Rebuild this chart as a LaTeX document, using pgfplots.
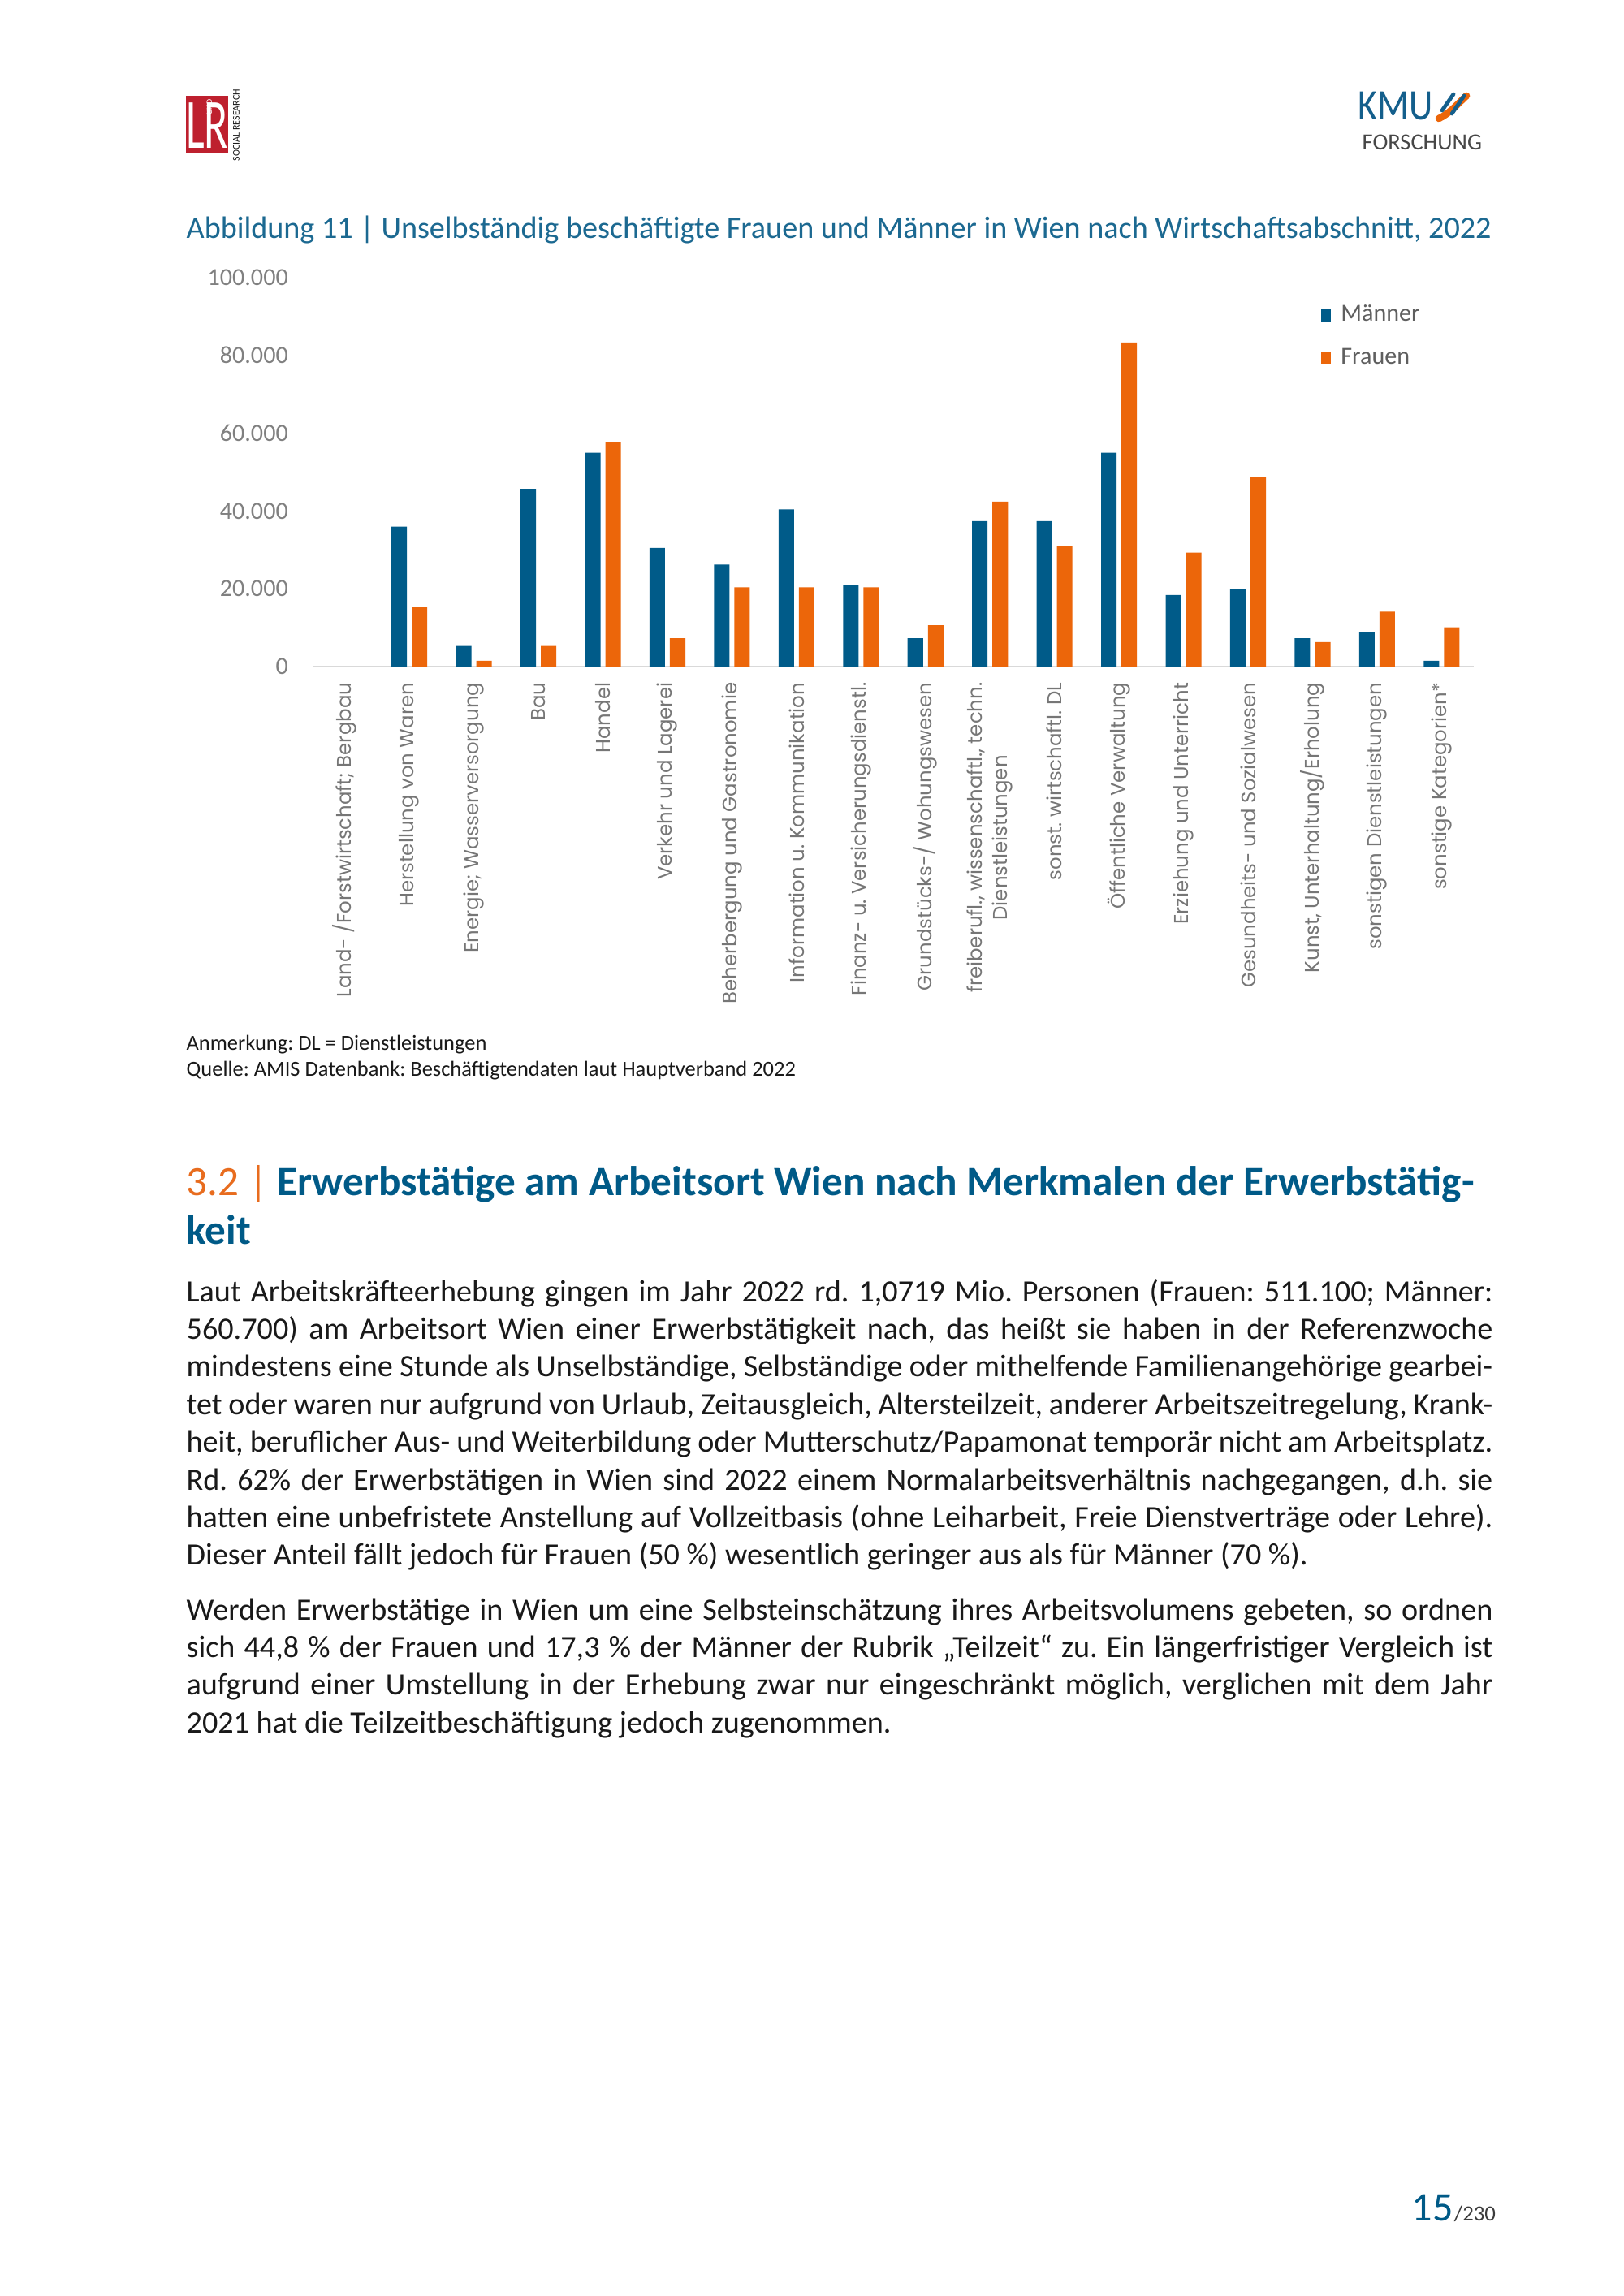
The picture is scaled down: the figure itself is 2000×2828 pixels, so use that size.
\documentclass[border=0pt]{standalone}
\usepackage{fontspec}
\setmainfont{Carlito}
\newfontfamily\labfont{Poppins}
\usepackage{pgfplots}
\pgfplotsset{compat=1.18}
\definecolor{mblue}{RGB}{0,91,137}
\definecolor{forange}{RGB}{236,102,10}
\definecolor{capblue}{RGB}{28,105,145}
\definecolor{headblue}{RGB}{0,90,135}
\definecolor{headorange}{RGB}{232,108,30}
\definecolor{txt}{RGB}{25,25,25}
\definecolor{tickgray}{RGB}{128,128,128}
\definecolor{labgray}{RGB}{118,118,118}
\definecolor{legtext}{RGB}{95,95,95}
\definecolor{axgray}{RGB}{217,217,217}
\definecolor{lrred}{RGB}{190,32,46}
\definecolor{kmublue}{RGB}{20,95,140}
\newcommand\bodyfont{\fontsize{11.4}{13.86}\selectfont}
\newcommand\jl[2]{\node[anchor=base west, inner sep=0pt, font=\bodyfont, text=txt] at (229,#1) {\makebox[168.9mm][s]{#2}};}
\newcommand\lastl[2]{\node[anchor=base west, inner sep=0pt, font=\bodyfont, text=txt] at (229,#1) {#2};}
\frenchspacing
\begin{document}
\frenchspacing
\begin{tikzpicture}[x=0.105mm,y=-0.105mm]
\path[fill=white] (0,0) rectangle (2000,2828);
% ---- logos ----
\fill[lrred] (229,118) rectangle (281,189);
\node[white, inner sep=0pt, anchor=base, xscale=0.62, font=\fontsize{26}{26}\selectfont] at (255,183) {LR};
\node[white, inner sep=0pt, rotate=90, font=\fontsize{3}{3}\selectfont] at (258,132) {UND};
\node[txt, inner sep=0pt, rotate=90, font=\fontsize{3.6}{4}\selectfont] at (291,154) {SOCIAL RESEARCH};
\node[anchor=base west, inner sep=0pt, text=kmublue, xscale=0.85, font=\fontsize{16}{16}\selectfont] at (1672,148) {KMU};
\draw[forange, line width=0.9mm, line cap=round] (1772,146) .. controls (1785,140) and (1795,128) .. (1806,118);
\draw[kmublue, line width=0.5mm, line cap=round] (1776,136) -- (1790,116);
\draw[kmublue, line width=0.5mm, line cap=round] (1788,140) -- (1803,118);
\node[anchor=base west, inner sep=0pt, text=txt!80, font=\fontsize{8.5}{9}\selectfont] at (1677,185) {FORSCHUNG};
% ---- caption ----
\node[anchor=base west, inner sep=0pt, text=capblue, font=\fontsize{11.4}{13}\selectfont] at (229,293) {Abbildung 11 | Unselbständig beschäftigte Frauen und Männer in Wien nach Wirtschaftsabschnitt, 2022};
% ---- chart ----
\coordinate (O) at (385,821);
\begin{axis}[
  at={(O)}, anchor=south west, scale only axis,
  width=150.15mm, height=50.3mm,
  xmin=-0.5, xmax=17.5, ymin=0, ymax=100000,
  ybar=0.63mm, bar width=2.0mm,
  axis x line*=bottom, axis y line*=left,
  x axis line style={draw=axgray, line width=0.3mm},
  y axis line style={draw=none},
  major tick length=0pt,
  xtick={0,...,17},
  xticklabels={{Land- /Forstwirtschaft; Bergbau},{Herstellung von Waren},{Energie; Wasserversorgung},{Bau},{Handel},{Verkehr und Lagerei},{Beherbergung und Gastronomie},{Information u. Kommunikation},{Finanz- u. Versicherungsdienstl.},{Grundstücks-/ Wohungswesen},{freiberufl., wissenschaftl., techn.\\Dienstleistungen},{sonst. wirtschaftl. DL},{Öffentliche Verwaltung},{Erziehung und Unterricht},{Gesundheits- und Sozialwesen},{Kunst, Unterhaltung/Erholung},{sonstigen Dienstleistungen},{sonstige Kategorien*}},
  xticklabel style={rotate=90, anchor=east, align=center, inner sep=0pt, font=\labfont\fontsize{7.3}{9.3}\selectfont, text=labgray},
  xticklabel shift=2mm,
  ytick={0,20000,40000,60000,80000,100000},
  yticklabels={0,20.000,40.000,60.000,80.000,100.000},
  scaled y ticks=false,
  yticklabel style={font=\fontsize{9}{10}\selectfont, text=tickgray, inner sep=0pt},
  yticklabel shift=3.1mm,
  legend cell align=left,
  legend style={at={(0.868,0.945)}, anchor=north west, draw=none, fill=none, inner sep=0pt,
    font=\fontsize{9}{10}\selectfont, text=legtext, row sep=1.55mm, column sep=0.6mm},
  legend image code/.code={\fill[#1] (0mm,-0.79mm) rectangle (1.26mm,0.79mm);},
  clip=false,
]
\addplot[fill=mblue, draw=none] coordinates {
(0,0) (1,36000) (2,5300) (3,45700) (4,55000) (5,30500) (6,26200) (7,40400) (8,20900)
(9,7300) (10,37400) (11,37400) (12,55000) (13,18400) (14,20000) (15,7300) (16,8800) (17,1500)};
\addplot[fill=forange, draw=none] coordinates {
(0,0) (1,15200) (2,1500) (3,5300) (4,57800) (5,7300) (6,20400) (7,20400) (8,20400)
(9,10600) (10,42400) (11,31100) (12,83300) (13,29300) (14,48800) (15,6300) (16,14100) (17,10100)};
\legend{Männer,Frauen}
\end{axis}
% ---- notes ----
\node[anchor=base west, inner sep=0pt, text=txt, font=\fontsize{7.9}{9.6}\selectfont] at (229,1293) {Anmerkung: DL = Dienstleistungen};
\node[anchor=base west, inner sep=0pt, text=txt, font=\fontsize{7.9}{9.6}\selectfont] at (229,1325) {Quelle: AMIS Datenbank: Beschäftigtendaten laut Hauptverband 2022};
% ---- heading ----
\node[anchor=base west, inner sep=0pt, font=\fontsize{15.3}{18}\selectfont] at (229,1472) {\textcolor{headorange}{3.2 |} \textcolor{headblue}{\bfseries Erwerbstätige am Arbeitsort Wien nach Merkmalen der Erwerbstätig-}};
\node[anchor=base west, inner sep=0pt, font=\fontsize{15.3}{18}\selectfont\bfseries, text=headblue] at (229,1532) {keit};
% ---- body ----
\jl{1603}{Laut Arbeitskräfteerhebung gingen im Jahr 2022 rd. 1,0719 Mio. Personen (Frauen: 511.100; Männer:}
\jl{1649.4}{560.700) am Arbeitsort Wien einer Erwerbstätigkeit nach, das heißt sie haben in der Referenzwoche}
\jl{1695.8}{mindestens eine Stunde als Unselbständige, Selbständige oder mithelfende Familienangehörige gearbei-}
\jl{1742.2}{tet oder waren nur aufgrund von Urlaub, Zeitausgleich, Altersteilzeit, anderer Arbeitszeitregelung, Krank-}
\jl{1788.6}{heit, beruflicher Aus- und Weiterbildung oder Mutterschutz/Papamonat temporär nicht am Arbeitsplatz.}
\jl{1835}{Rd. 62\% der Erwerbstätigen in Wien sind 2022 einem Normalarbeitsverhältnis nachgegangen, d.h. sie}
\jl{1881.4}{hatten eine unbefristete Anstellung auf Vollzeitbasis (ohne Leiharbeit, Freie Dienstverträge oder Lehre).}
\lastl{1927.8}{Dieser Anteil fällt jedoch für Frauen (50 \%) wesentlich geringer aus als für Männer (70 \%).}
\jl{1995}{Werden Erwerbstätige in Wien um eine Selbsteinschätzung ihres Arbeitsvolumens gebeten, so ordnen}
\jl{2041.4}{sich 44,8 \% der Frauen und 17,3 \% der Männer der Rubrik „Teilzeit“ zu. Ein längerfristiger Vergleich ist}
\jl{2087.8}{aufgrund einer Umstellung in der Erhebung zwar nur eingeschränkt möglich, verglichen mit dem Jahr}
\lastl{2134.2}{2021 hat die Teilzeitbeschäftigung jedoch zugenommen.}
% ---- page number ----
\node[anchor=base west, inner sep=0pt, text=headblue, font=\fontsize{15}{15}\selectfont] (pn) at (1738,2735) {15};
\node[anchor=base west, inner sep=0pt, text=txt!85, font=\fontsize{8}{8}\selectfont] at (pn.base east) {/230};
\end{tikzpicture}
\end{document}
